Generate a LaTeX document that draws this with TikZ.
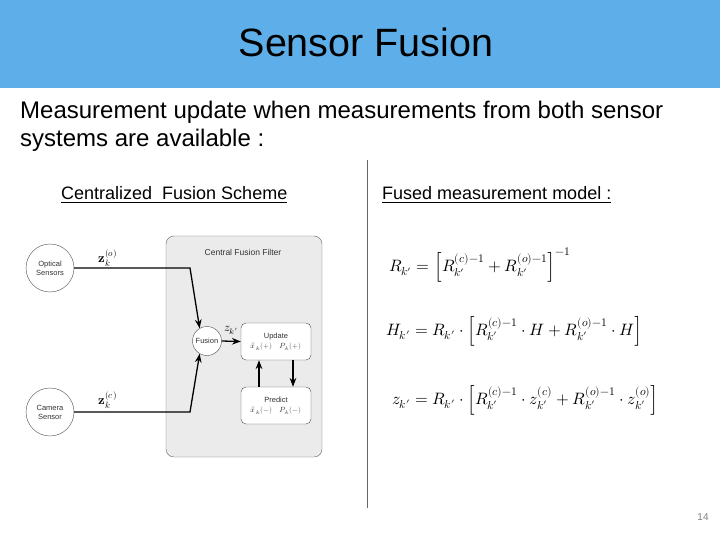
\documentclass[tikz,border=0pt]{standalone}
\usepackage{amsmath}
\usepackage{fontspec}
\usepackage{unicode-math}
\setmainfont{Liberation Sans}
\usetikzlibrary{arrows.meta,positioning,calc}
\definecolor{banner}{HTML}{5DAEE9}
\definecolor{filterbg}{HTML}{EBEBEB}

\begin{document}
\begin{tikzpicture}[x=1pt,y=-1pt,
  sensor/.style={circle,draw=black!70,fill=white,minimum size=48pt,inner sep=0pt,
                 align=center,font=\fontsize{7.5}{9}\selectfont,text=black!80},
  block/.style={rectangle,draw=black!70,fill=white,minimum height=37pt,minimum width=70pt,
                rounded corners=5pt,align=center,inner sep=1pt,font=\fontsize{7.5}{9}\selectfont,text=black!80},
  sig/.style={-Stealth,line width=1.3pt},
  formula/.style={anchor=west,inner sep=0pt,font=\fontsize{16.5}{20}\selectfont}]
\useasboundingbox (0,0) rectangle (720,540);
% banner and heading
\fill[banner] (0,0) rectangle (720,88);
\node (title) at (366,42) {\fontsize{39.5}{44}\selectfont Sensor Fusion};
\node[anchor=north west,align=left,inner sep=0pt,font=\fontsize{24}{28}\selectfont] (intro) at (20,101)
  {Measurement update when measurements from both sensor\\systems are available :};
\node[anchor=west,inner sep=0pt,font=\fontsize{18}{20}\selectfont] (lefthead) at (61,195)
  {\underline{Centralized\ \ Fusion Scheme}};
\node[anchor=west,inner sep=0pt,font=\fontsize{18}{20}\selectfont] (righthead) at (382,195)
  {\underline{Fused measurement model :}};
\draw[black!60,line width=0.8pt] (367,160) -- (367,508);
\node[text=black!50,font=\fontsize{10}{12}\selectfont] (pageno) at (703,517) {14};

% centralized fusion scheme
\draw[black!60,fill=filterbg,rounded corners=8pt] (166,236) rectangle (322,457);
\node[font=\fontsize{8.5}{10}\selectfont,text=black!80] (filter) at (243,252) {Central Fusion Filter};
\node[sensor] (optical) at (50,268) {Optical\\Sensors};
\node[sensor] (camera) at (50,412) {Camera\\Sensor};
\node[circle,draw=black!70,fill=white,minimum size=29pt,inner sep=0pt,
      font=\fontsize{7.5}{9}\selectfont,text=black!80] (fusion) at (207,341) {Fusion};
\node[block] (update) at (276,341.5) {Update\\[1pt]$\hat{x}_k(+)\quad P_k(+)$};
\node[block] (predict) at (276,405.5) {Predict\\[1pt]$\hat{x}_k(-)\quad P_k(-)$};
\coordinate (obend) at (190,268);
\coordinate (cbend) at (190,412);
\draw[sig] (optical.east) -- (obend) -- (fusion.120);
\draw[sig] (camera.east) -- (cbend) -- (fusion.240);
\draw[sig] (fusion.east) -- (update.west);
\draw[sig] ($(update.south)+(17,0)$) -- ($(predict.north)+(17,0)$);
\draw[sig] ($(predict.north)+(-17,0)$) -- ($(update.south)+(-17,0)$);
\node[font=\fontsize{13}{14}\selectfont] (zo) at (108,258) {$\symbf{z}_k^{(o)}$};
\node[font=\fontsize{13}{14}\selectfont] (zc) at (108,400) {$\symbf{z}_k^{(c)}$};
\node[font=\fontsize{12}{14}\selectfont] (zk) at (231,330) {$z_{k'}$};

% fused measurement model
\node[formula] (eqR) at (389,265)
  {$R_{k'} = \Bigl[ R_{k'}^{(c)-1} + R_{k'}^{(o)-1} \Bigr]^{-1}$};
\node[formula] (eqH) at (386,331)
  {$H_{k'} = R_{k'} \cdot \Bigl[ R_{k'}^{(c)-1} \cdot H + R_{k'}^{(o)-1} \cdot H \Bigr]$};
\node[formula] (eqz) at (392,400)
  {$z_{k'} = R_{k'} \cdot \Bigl[ R_{k'}^{(c)-1} \cdot z_{k'}^{(c)} + R_{k'}^{(o)-1} \cdot z_{k'}^{(o)} \Bigr]$};
\end{tikzpicture}
\end{document}
